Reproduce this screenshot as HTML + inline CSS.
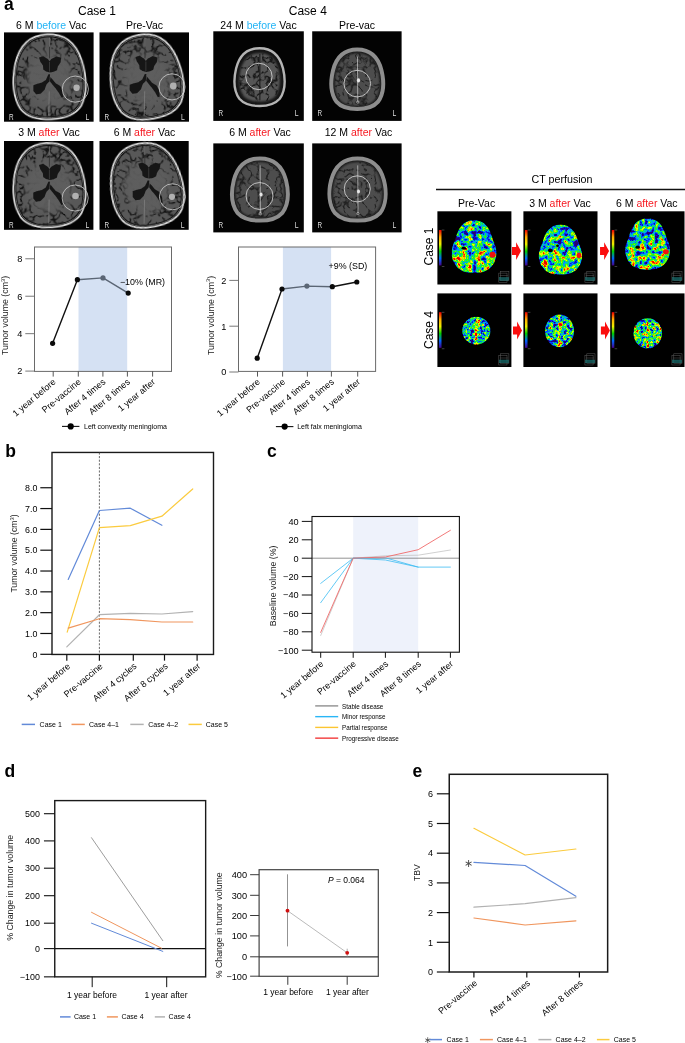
<!DOCTYPE html>
<html lang="en"><head><meta charset="utf-8"><title>Figure</title>
<style>html,body{margin:0;padding:0;background:#fff}body{width:685px;height:1043px;overflow:hidden}svg{display:block;will-change:transform}text{font-family:"Liberation Sans", Arial, Helvetica, sans-serif}</style></head><body>
<svg width="685" height="1043" viewBox="0 0 685 1043">
<defs>
<filter id="b1" x="-10%" y="-10%" width="120%" height="120%"><feGaussianBlur stdDeviation="0.6"/></filter>
<filter id="b2" x="-10%" y="-10%" width="120%" height="120%"><feGaussianBlur stdDeviation="1.2"/></filter>
<filter id="jet0" x="0" y="0" width="1" height="1" color-interpolation-filters="sRGB">
<feTurbulence type="fractalNoise" baseFrequency="0.2" numOctaves="3" seed="3" result="n"/>
<feColorMatrix in="n" type="matrix" values="1 0 0 0 0  1 0 0 0 0  1 0 0 0 0  0 0 0 0 1" result="n1"/>
<feComposite in="n1" in2="SourceGraphic" operator="arithmetic" k1="0" k2="1" k3="0.38" k4="-0.2" result="m"/>
<feColorMatrix in="m" type="matrix" values="1.75 0 0 0 -0.435  1.75 0 0 0 -0.435  1.75 0 0 0 -0.435  0 0 0 0 1"/>
<feComponentTransfer><feFuncR type="table" tableValues="0.15 0.05 0 0 0 0.1 0.5 0.95 1 1 0.9"/><feFuncG type="table" tableValues="0 0.05 0.25 0.6 0.85 0.95 1 1 0.6 0 0"/><feFuncB type="table" tableValues="0.45 0.75 1 1 0.6 0.1 0 0 0 0 0"/></feComponentTransfer>
<feComposite in2="SourceGraphic" operator="in"/>
</filter>
<filter id="jet1" x="0" y="0" width="1" height="1" color-interpolation-filters="sRGB">
<feTurbulence type="fractalNoise" baseFrequency="0.2" numOctaves="3" seed="10" result="n"/>
<feColorMatrix in="n" type="matrix" values="1 0 0 0 0  1 0 0 0 0  1 0 0 0 0  0 0 0 0 1" result="n1"/>
<feComposite in="n1" in2="SourceGraphic" operator="arithmetic" k1="0" k2="1" k3="0.38" k4="-0.2" result="m"/>
<feColorMatrix in="m" type="matrix" values="1.75 0 0 0 -0.435  1.75 0 0 0 -0.435  1.75 0 0 0 -0.435  0 0 0 0 1"/>
<feComponentTransfer><feFuncR type="table" tableValues="0.15 0.05 0 0 0 0.1 0.5 0.95 1 1 0.9"/><feFuncG type="table" tableValues="0 0.05 0.25 0.6 0.85 0.95 1 1 0.6 0 0"/><feFuncB type="table" tableValues="0.45 0.75 1 1 0.6 0.1 0 0 0 0 0"/></feComponentTransfer>
<feComposite in2="SourceGraphic" operator="in"/>
</filter>
<filter id="jet2" x="0" y="0" width="1" height="1" color-interpolation-filters="sRGB">
<feTurbulence type="fractalNoise" baseFrequency="0.2" numOctaves="3" seed="17" result="n"/>
<feColorMatrix in="n" type="matrix" values="1 0 0 0 0  1 0 0 0 0  1 0 0 0 0  0 0 0 0 1" result="n1"/>
<feComposite in="n1" in2="SourceGraphic" operator="arithmetic" k1="0" k2="1" k3="0.38" k4="-0.2" result="m"/>
<feColorMatrix in="m" type="matrix" values="1.75 0 0 0 -0.435  1.75 0 0 0 -0.435  1.75 0 0 0 -0.435  0 0 0 0 1"/>
<feComponentTransfer><feFuncR type="table" tableValues="0.15 0.05 0 0 0 0.1 0.5 0.95 1 1 0.9"/><feFuncG type="table" tableValues="0 0.05 0.25 0.6 0.85 0.95 1 1 0.6 0 0"/><feFuncB type="table" tableValues="0.45 0.75 1 1 0.6 0.1 0 0 0 0 0"/></feComponentTransfer>
<feComposite in2="SourceGraphic" operator="in"/>
</filter>
<filter id="jet3" x="0" y="0" width="1" height="1" color-interpolation-filters="sRGB">
<feTurbulence type="fractalNoise" baseFrequency="0.3" numOctaves="3" seed="24" result="n"/>
<feColorMatrix in="n" type="matrix" values="1 0 0 0 0  1 0 0 0 0  1 0 0 0 0  0 0 0 0 1" result="n1"/>
<feComposite in="n1" in2="SourceGraphic" operator="arithmetic" k1="0" k2="1" k3="0.38" k4="-0.2" result="m"/>
<feColorMatrix in="m" type="matrix" values="1.75 0 0 0 -0.435  1.75 0 0 0 -0.435  1.75 0 0 0 -0.435  0 0 0 0 1"/>
<feComponentTransfer><feFuncR type="table" tableValues="0.15 0.05 0 0 0 0.1 0.5 0.95 1 1 0.9"/><feFuncG type="table" tableValues="0 0.05 0.25 0.6 0.85 0.95 1 1 0.6 0 0"/><feFuncB type="table" tableValues="0.45 0.75 1 1 0.6 0.1 0 0 0 0 0"/></feComponentTransfer>
<feComposite in2="SourceGraphic" operator="in"/>
</filter>
<filter id="jet4" x="0" y="0" width="1" height="1" color-interpolation-filters="sRGB">
<feTurbulence type="fractalNoise" baseFrequency="0.3" numOctaves="3" seed="31" result="n"/>
<feColorMatrix in="n" type="matrix" values="1 0 0 0 0  1 0 0 0 0  1 0 0 0 0  0 0 0 0 1" result="n1"/>
<feComposite in="n1" in2="SourceGraphic" operator="arithmetic" k1="0" k2="1" k3="0.38" k4="-0.2" result="m"/>
<feColorMatrix in="m" type="matrix" values="1.75 0 0 0 -0.435  1.75 0 0 0 -0.435  1.75 0 0 0 -0.435  0 0 0 0 1"/>
<feComponentTransfer><feFuncR type="table" tableValues="0.15 0.05 0 0 0 0.1 0.5 0.95 1 1 0.9"/><feFuncG type="table" tableValues="0 0.05 0.25 0.6 0.85 0.95 1 1 0.6 0 0"/><feFuncB type="table" tableValues="0.45 0.75 1 1 0.6 0.1 0 0 0 0 0"/></feComponentTransfer>
<feComposite in2="SourceGraphic" operator="in"/>
</filter>
<filter id="jet5" x="0" y="0" width="1" height="1" color-interpolation-filters="sRGB">
<feTurbulence type="fractalNoise" baseFrequency="0.3" numOctaves="3" seed="38" result="n"/>
<feColorMatrix in="n" type="matrix" values="1 0 0 0 0  1 0 0 0 0  1 0 0 0 0  0 0 0 0 1" result="n1"/>
<feComposite in="n1" in2="SourceGraphic" operator="arithmetic" k1="0" k2="1" k3="0.38" k4="-0.2" result="m"/>
<feColorMatrix in="m" type="matrix" values="1.75 0 0 0 -0.435  1.75 0 0 0 -0.435  1.75 0 0 0 -0.435  0 0 0 0 1"/>
<feComponentTransfer><feFuncR type="table" tableValues="0.15 0.05 0 0 0 0.1 0.5 0.95 1 1 0.9"/><feFuncG type="table" tableValues="0 0.05 0.25 0.6 0.85 0.95 1 1 0.6 0 0"/><feFuncB type="table" tableValues="0.45 0.75 1 1 0.6 0.1 0 0 0 0 0"/></feComponentTransfer>
<feComposite in2="SourceGraphic" operator="in"/>
</filter>
<linearGradient id="cbar" x1="0" y1="0" x2="0" y2="1"><stop offset="0" stop-color="#e00"/><stop offset="0.2" stop-color="#fa0"/><stop offset="0.4" stop-color="#ee0"/><stop offset="0.6" stop-color="#0c0"/><stop offset="0.8" stop-color="#06f"/><stop offset="1" stop-color="#408"/></linearGradient>
<filter id="sul0" x="0" y="0" width="1" height="1"><feTurbulence type="turbulence" baseFrequency="0.12" numOctaves="2" seed="5"/><feColorMatrix type="matrix" values="0 0 0 0 0  0 0 0 0 0  0 0 0 0 0  -6 0 0 0 1.25"/><feGaussianBlur stdDeviation="0.35"/><feComposite in2="SourceGraphic" operator="in"/></filter>
<filter id="sul1" x="0" y="0" width="1" height="1"><feTurbulence type="turbulence" baseFrequency="0.12" numOctaves="2" seed="11"/><feColorMatrix type="matrix" values="0 0 0 0 0  0 0 0 0 0  0 0 0 0 0  -6 0 0 0 1.25"/><feGaussianBlur stdDeviation="0.35"/><feComposite in2="SourceGraphic" operator="in"/></filter>
<filter id="sul2" x="0" y="0" width="1" height="1"><feTurbulence type="turbulence" baseFrequency="0.12" numOctaves="2" seed="23"/><feColorMatrix type="matrix" values="0 0 0 0 0  0 0 0 0 0  0 0 0 0 0  -6 0 0 0 1.25"/><feGaussianBlur stdDeviation="0.35"/><feComposite in2="SourceGraphic" operator="in"/></filter>
<filter id="sul3" x="0" y="0" width="1" height="1"><feTurbulence type="turbulence" baseFrequency="0.12" numOctaves="2" seed="31"/><feColorMatrix type="matrix" values="0 0 0 0 0  0 0 0 0 0  0 0 0 0 0  -6 0 0 0 1.25"/><feGaussianBlur stdDeviation="0.35"/><feComposite in2="SourceGraphic" operator="in"/></filter>
<filter id="sul4" x="0" y="0" width="1" height="1"><feTurbulence type="turbulence" baseFrequency="0.11" numOctaves="2" seed="7"/><feColorMatrix type="matrix" values="0 0 0 0 0  0 0 0 0 0  0 0 0 0 0  -6 0 0 0 1.25"/><feGaussianBlur stdDeviation="0.35"/><feComposite in2="SourceGraphic" operator="in"/></filter>
<filter id="sul5" x="0" y="0" width="1" height="1"><feTurbulence type="turbulence" baseFrequency="0.11" numOctaves="2" seed="13"/><feColorMatrix type="matrix" values="0 0 0 0 0  0 0 0 0 0  0 0 0 0 0  -6 0 0 0 1.25"/><feGaussianBlur stdDeviation="0.35"/><feComposite in2="SourceGraphic" operator="in"/></filter>
<filter id="sul6" x="0" y="0" width="1" height="1"><feTurbulence type="turbulence" baseFrequency="0.11" numOctaves="2" seed="19"/><feColorMatrix type="matrix" values="0 0 0 0 0  0 0 0 0 0  0 0 0 0 0  -6 0 0 0 1.25"/><feGaussianBlur stdDeviation="0.35"/><feComposite in2="SourceGraphic" operator="in"/></filter>
<filter id="sul7" x="0" y="0" width="1" height="1"><feTurbulence type="turbulence" baseFrequency="0.11" numOctaves="2" seed="29"/><feColorMatrix type="matrix" values="0 0 0 0 0  0 0 0 0 0  0 0 0 0 0  -6 0 0 0 1.25"/><feGaussianBlur stdDeviation="0.35"/><feComposite in2="SourceGraphic" operator="in"/></filter>
<radialGradient id="core"><stop offset="0" stop-color="#5e5e5e" stop-opacity="1"/><stop offset="0.7" stop-color="#5e5e5e" stop-opacity="0.9"/><stop offset="1" stop-color="#5e5e5e" stop-opacity="0"/></radialGradient>
<radialGradient id="core4"><stop offset="0" stop-color="#555" stop-opacity="1"/><stop offset="0.6" stop-color="#555" stop-opacity="0.8"/><stop offset="1" stop-color="#555" stop-opacity="0"/></radialGradient>
<linearGradient id="gv" x1="0" y1="0" x2="0" y2="1"><stop offset="0" stop-color="#7c7c7c"/><stop offset="0.35" stop-color="#5e5e5e"/><stop offset="0.7" stop-color="#a4a4a4"/><stop offset="1" stop-color="#999"/></linearGradient>
<linearGradient id="gh" x1="0" y1="0" x2="1" y2="0"><stop offset="0" stop-color="#8a8a8a"/><stop offset="0.2" stop-color="#6c6c6c"/><stop offset="0.42" stop-color="#6c6c6c"/><stop offset="0.5" stop-color="#fff"/><stop offset="0.58" stop-color="#6c6c6c"/><stop offset="0.8" stop-color="#6c6c6c"/><stop offset="1" stop-color="#8a8a8a"/></linearGradient>
<linearGradient id="gh2" x1="0" y1="0" x2="1" y2="0"><stop offset="0" stop-color="#d0d0d0"/><stop offset="0.2" stop-color="#8a8a8a"/><stop offset="0.42" stop-color="#7a7a7a"/><stop offset="0.5" stop-color="#fff"/><stop offset="0.58" stop-color="#7a7a7a"/><stop offset="0.8" stop-color="#8a8a8a"/><stop offset="1" stop-color="#d0d0d0"/></linearGradient>
</defs>
<rect width="685" height="1043" fill="#fff"/>
<text font-size="17.5" text-anchor="start" fill="#000" font-weight="bold" x="3.90" y="9.60" >a</text>
<text font-size="17.5" text-anchor="start" fill="#000" font-weight="bold" x="5.20" y="457.00" >b</text>
<text font-size="17.5" text-anchor="start" fill="#000" font-weight="bold" x="267.00" y="457.00" >c</text>
<text font-size="17.5" text-anchor="start" fill="#000" font-weight="bold" x="4.40" y="776.60" >d</text>
<text font-size="17.5" text-anchor="start" fill="#000" font-weight="bold" x="412.60" y="776.60" >e</text>
<text font-size="12" text-anchor="middle" fill="#000" x="97.00" y="14.90" >Case 1</text>
<text font-size="12" text-anchor="middle" fill="#000" x="307.80" y="14.90" >Case 4</text>
<text font-size="10.5" text-anchor="middle" fill="#000" x="51.20" y="28.60" xml:space="preserve">6 M <tspan fill="#22b4f6">before</tspan> Vac</text>
<text font-size="10.5" text-anchor="middle" fill="#000" x="144.50" y="28.60" xml:space="preserve">Pre-Vac</text>
<text font-size="10.5" text-anchor="middle" fill="#000" x="49.00" y="136.00" xml:space="preserve">3 M <tspan fill="#f61820">after</tspan> Vac</text>
<text font-size="10.5" text-anchor="middle" fill="#000" x="144.50" y="136.00" xml:space="preserve">6 M <tspan fill="#f61820">after</tspan> Vac</text>
<g transform="translate(4.00,32.40)">
<rect x="0.00" y="0.00" width="89.60" height="89.30" fill="#030303" stroke="none" stroke-width="1" />
<g transform="rotate(-3 45.25 44.38)">
<path d="M45.25,1.85 C61.51,1.85 73.43,11.21 78.49,29.50 C82.83,46.51 82.11,63.52 75.60,75.01 C68.74,84.79 56.81,86.91 45.25,86.91 C33.68,86.91 21.76,84.79 14.89,75.01 C8.39,63.52 7.67,46.51 12.00,29.50 C17.06,11.21 28.99,1.85 45.25,1.85 Z" fill="none" stroke="#dcdcdc" stroke-width="1.8" filter="url(#b1)"/>
<path d="M45.25,3.55 C60.74,3.55 72.11,12.53 76.93,30.09 C81.06,46.42 80.37,62.76 74.17,73.78 C67.63,83.17 56.27,85.21 45.25,85.21 C34.23,85.21 22.86,83.17 16.32,73.78 C10.12,62.76 9.43,46.42 13.57,30.09 C18.39,12.53 29.75,3.55 45.25,3.55 Z" fill="none" stroke="#7c7c7c" stroke-width="0.7"/>
<path d="M45.25,4.65 C60.25,4.65 71.25,13.39 75.92,30.48 C79.92,46.37 79.25,62.26 73.25,72.99 C66.92,82.13 55.92,84.11 45.25,84.11 C34.58,84.11 23.58,82.13 17.25,72.99 C11.25,62.26 10.58,46.37 14.58,30.48 C19.25,13.39 30.25,4.65 45.25,4.65 Z" fill="#585858" filter="url(#b1)"/>
<path d="M45.25,4.65 C60.25,4.65 71.25,13.39 75.92,30.48 C79.92,46.37 79.25,62.26 73.25,72.99 C66.92,82.13 55.92,84.11 45.25,84.11 C34.58,84.11 23.58,82.13 17.25,72.99 C11.25,62.26 10.58,46.37 14.58,30.48 C19.25,13.39 30.25,4.65 45.25,4.65 Z" fill="#000" filter="url(#sul0)" opacity="0.8"/>
<ellipse cx="45.25" cy="46.38" rx="26.74" ry="31.13" fill="url(#core)"/>
</g>
<line x1="45.52" y1="6.25" x2="45.52" y2="25.90" stroke="#303030" stroke-width="0.8" />
<line x1="45.52" y1="5.36" x2="45.52" y2="14.29" stroke="#9a9a9a" stroke-width="0.5" />
<line x1="45.25" y1="58.94" x2="44.80" y2="83.05" stroke="#8a8a8a" stroke-width="0.6" />
<g fill="#171717" filter="url(#b1)">
<path d="M35.03,25.00 L39.24,23.84 L43.81,26.70 L45.52,28.93 L47.31,26.70 L52.33,24.11 L57.16,25.45 L56.54,30.00 L53.85,34.11 L52.95,37.77 L49.73,39.38 L46.05,40.01 L42.11,39.11 L39.24,37.15 L38.98,33.22 L36.38,29.29 Z"/><path d="M29.39,52.78 L32.70,51.53 L37.90,50.19 L41.84,47.60 L44.44,41.97 L46.05,41.97 L45.52,48.85 L42.47,52.15 L40.59,57.33 L36.65,61.26 L32.08,61.88 L29.39,58.67 Z"/><path d="M46.41,44.65 L49.01,47.60 L51.70,50.81 L56.27,53.49 L58.87,58.67 L59.49,64.56 L57.52,65.19 L54.92,60.63 L51.70,56.08 L48.38,52.15 L45.88,48.85 Z"/>
</g>
<line x1="45.52" y1="29.47" x2="45.52" y2="39.29" stroke="#5a5a5a" stroke-width="0.5" />
<circle cx="72.58" cy="55.37" r="3.23" fill="#b0b0b0" filter="url(#b1)"/>
<circle cx="71.32" cy="56.71" r="13.08" fill="none" stroke="#cfcfcf" stroke-width="0.8"/>
<text font-size="9" text-anchor="start" fill="#dedede" x="5.00" y="87.40" textLength="4.6" lengthAdjust="spacingAndGlyphs">R</text>
<text font-size="9" text-anchor="end" fill="#dedede" x="85.40" y="87.40" textLength="3.8" lengthAdjust="spacingAndGlyphs">L</text>
</g>
<g transform="translate(99.50,32.40)">
<rect x="0.00" y="0.00" width="89.50" height="89.30" fill="#030303" stroke="none" stroke-width="1" />
<g transform="rotate(-10 46.54 44.38)">
<path d="M46.54,1.85 C62.78,1.85 74.69,11.21 79.75,29.50 C84.08,46.51 83.36,63.52 76.86,75.01 C70.00,84.79 58.09,86.91 46.54,86.91 C34.99,86.91 23.08,84.79 16.22,75.01 C9.72,63.52 9.00,46.51 13.33,29.50 C18.39,11.21 30.30,1.85 46.54,1.85 Z" fill="none" stroke="#dcdcdc" stroke-width="1.8" filter="url(#b1)"/>
<path d="M46.54,3.55 C62.02,3.55 73.37,12.53 78.18,30.09 C82.31,46.42 81.62,62.76 75.43,73.78 C68.90,83.17 57.55,85.21 46.54,85.21 C35.53,85.21 24.18,83.17 17.65,73.78 C11.46,62.76 10.77,46.42 14.90,30.09 C19.71,12.53 31.06,3.55 46.54,3.55 Z" fill="none" stroke="#7c7c7c" stroke-width="0.7"/>
<path d="M46.54,4.65 C61.52,4.65 72.51,13.39 77.17,30.48 C81.17,46.37 80.50,62.26 74.51,72.99 C68.18,82.13 57.19,84.11 46.54,84.11 C35.89,84.11 24.90,82.13 18.57,72.99 C12.58,62.26 11.91,46.37 15.91,30.48 C20.57,13.39 31.56,4.65 46.54,4.65 Z" fill="#585858" filter="url(#b1)"/>
<path d="M46.54,4.65 C61.52,4.65 72.51,13.39 77.17,30.48 C81.17,46.37 80.50,62.26 74.51,72.99 C68.18,82.13 57.19,84.11 46.54,84.11 C35.89,84.11 24.90,82.13 18.57,72.99 C12.58,62.26 11.91,46.37 15.91,30.48 C20.57,13.39 31.56,4.65 46.54,4.65 Z" fill="#000" filter="url(#sul1)" opacity="0.8"/>
<ellipse cx="46.54" cy="46.38" rx="26.70" ry="31.13" fill="url(#core)"/>
</g>
<line x1="45.47" y1="6.25" x2="45.47" y2="25.90" stroke="#303030" stroke-width="0.8" />
<line x1="45.47" y1="5.36" x2="45.47" y2="14.29" stroke="#9a9a9a" stroke-width="0.5" />
<line x1="45.20" y1="58.94" x2="44.75" y2="83.05" stroke="#8a8a8a" stroke-width="0.6" />
<g fill="#171717" filter="url(#b1)">
<path d="M35.89,24.56 L40.10,23.40 L44.66,26.25 L46.36,28.49 L48.15,26.25 L53.16,23.66 L58.00,25.00 L57.37,29.56 L54.68,33.67 L53.79,37.33 L50.57,38.93 L46.90,39.56 L42.96,38.67 L40.10,36.70 L39.83,32.77 L37.23,28.84 Z"/><path d="M30.25,52.33 L33.56,51.08 L38.75,49.74 L42.69,47.15 L45.29,41.52 L46.90,41.52 L46.36,48.40 L43.32,51.70 L41.44,56.88 L37.50,60.81 L32.94,61.44 L30.25,58.22 Z"/><path d="M47.26,44.20 L49.85,47.15 L52.54,50.37 L57.10,53.04 L59.70,58.22 L60.32,64.12 L58.35,64.74 L55.76,60.19 L52.54,55.63 L49.23,51.70 L46.72,48.40 Z"/>
</g>
<line x1="46.36" y1="29.02" x2="46.36" y2="38.85" stroke="#5a5a5a" stroke-width="0.5" />
<circle cx="73.84" cy="53.58" r="3.40" fill="#b0b0b0" filter="url(#b1)"/>
<circle cx="72.50" cy="54.47" r="13.07" fill="none" stroke="#cfcfcf" stroke-width="0.8"/>
<text font-size="9" text-anchor="start" fill="#dedede" x="5.00" y="87.40" textLength="4.6" lengthAdjust="spacingAndGlyphs">R</text>
<text font-size="9" text-anchor="end" fill="#dedede" x="85.30" y="87.40" textLength="3.8" lengthAdjust="spacingAndGlyphs">L</text>
</g>
<g transform="translate(4.00,141.00)">
<rect x="0.00" y="0.00" width="89.40" height="88.80" fill="#030303" stroke="none" stroke-width="1" />
<g transform="rotate(-4 45.06 44.13)">
<path d="M45.06,1.84 C61.28,1.84 73.18,11.15 78.23,29.33 C82.55,46.25 81.83,63.16 75.34,74.58 C68.49,84.31 56.59,86.42 45.06,86.42 C33.52,86.42 21.62,84.31 14.77,74.58 C8.28,63.16 7.56,46.25 11.89,29.33 C16.94,11.15 28.83,1.84 45.06,1.84 Z" fill="none" stroke="#dcdcdc" stroke-width="1.8" filter="url(#b1)"/>
<path d="M45.06,3.54 C60.52,3.54 71.85,12.47 76.66,29.93 C80.79,46.16 80.10,62.40 73.91,73.36 C67.39,82.69 56.05,84.72 45.06,84.72 C34.06,84.72 22.73,82.69 16.20,73.36 C10.02,62.40 9.33,46.16 13.45,29.93 C18.26,12.47 29.60,3.54 45.06,3.54 Z" fill="none" stroke="#7c7c7c" stroke-width="0.7"/>
<path d="M45.06,4.64 C60.02,4.64 71.00,13.33 75.65,30.31 C79.64,46.11 78.98,61.90 72.99,72.57 C66.67,81.65 55.70,83.62 45.06,83.62 C34.42,83.62 23.44,81.65 17.12,72.57 C11.14,61.90 10.47,46.11 14.46,30.31 C19.12,13.33 30.09,4.64 45.06,4.64 Z" fill="#585858" filter="url(#b1)"/>
<path d="M45.06,4.64 C60.02,4.64 71.00,13.33 75.65,30.31 C79.64,46.11 78.98,61.90 72.99,72.57 C66.67,81.65 55.70,83.62 45.06,83.62 C34.42,83.62 23.44,81.65 17.12,72.57 C11.14,61.90 10.47,46.11 14.46,30.31 C19.12,13.33 30.09,4.64 45.06,4.64 Z" fill="#000" filter="url(#sul2)" opacity="0.8"/>
<ellipse cx="45.06" cy="46.13" rx="26.65" ry="30.89" fill="url(#core)"/>
</g>
<line x1="45.42" y1="6.22" x2="45.42" y2="25.75" stroke="#303030" stroke-width="0.8" />
<line x1="45.42" y1="5.33" x2="45.42" y2="14.21" stroke="#9a9a9a" stroke-width="0.5" />
<line x1="45.15" y1="58.61" x2="44.70" y2="82.58" stroke="#8a8a8a" stroke-width="0.6" />
<g fill="#171717" filter="url(#b1)">
<path d="M34.96,23.98 L39.16,22.82 L43.72,25.66 L45.42,27.88 L47.20,25.66 L52.21,23.09 L57.04,24.42 L56.41,28.95 L53.73,33.03 L52.84,36.67 L49.62,38.27 L45.95,38.89 L42.02,38.01 L39.16,36.05 L38.89,32.15 L36.30,28.24 Z"/><path d="M29.32,51.59 L32.63,50.35 L37.82,49.02 L41.75,46.44 L44.34,40.85 L45.95,40.85 L45.42,47.69 L42.38,50.97 L40.50,56.12 L36.56,60.03 L32.01,60.65 L29.32,57.45 Z"/><path d="M46.31,43.51 L48.90,46.44 L51.58,49.64 L56.14,52.30 L58.74,57.45 L59.36,63.31 L57.39,63.94 L54.80,59.41 L51.58,54.88 L48.28,50.97 L45.77,47.69 Z"/>
</g>
<line x1="45.42" y1="28.42" x2="45.42" y2="38.18" stroke="#5a5a5a" stroke-width="0.5" />
<circle cx="71.52" cy="55.06" r="3.31" fill="#b0b0b0" filter="url(#b1)"/>
<circle cx="71.16" cy="57.01" r="13.05" fill="none" stroke="#cfcfcf" stroke-width="0.8"/>
<text font-size="9" text-anchor="start" fill="#dedede" x="5.00" y="86.90" textLength="4.6" lengthAdjust="spacingAndGlyphs">R</text>
<text font-size="9" text-anchor="end" fill="#dedede" x="85.20" y="86.90" textLength="3.8" lengthAdjust="spacingAndGlyphs">L</text>
</g>
<g transform="translate(99.50,141.00)">
<rect x="0.00" y="0.00" width="89.20" height="88.80" fill="#030303" stroke="none" stroke-width="1" />
<g transform="rotate(-11 46.92 44.13)">
<path d="M46.92,1.84 C63.11,1.84 74.98,11.15 80.01,29.33 C84.33,46.25 83.61,63.16 77.14,74.58 C70.30,84.31 58.43,86.42 46.92,86.42 C35.41,86.42 23.54,84.31 16.70,74.58 C10.23,63.16 9.51,46.25 13.82,29.33 C18.86,11.15 30.73,1.84 46.92,1.84 Z" fill="none" stroke="#dcdcdc" stroke-width="1.8" filter="url(#b1)"/>
<path d="M46.92,3.54 C62.34,3.54 73.65,12.47 78.45,29.93 C82.56,46.16 81.88,62.40 75.71,73.36 C69.20,82.69 57.89,84.72 46.92,84.72 C35.95,84.72 24.64,82.69 18.13,73.36 C11.96,62.40 11.28,46.16 15.39,29.93 C20.19,12.47 31.50,3.54 46.92,3.54 Z" fill="none" stroke="#7c7c7c" stroke-width="0.7"/>
<path d="M46.92,4.64 C61.85,4.64 72.79,13.33 77.44,30.31 C81.42,46.11 80.75,61.90 74.78,72.57 C68.48,81.65 57.53,83.62 46.92,83.62 C36.30,83.62 25.36,81.65 19.05,72.57 C13.08,61.90 12.42,46.11 16.40,30.31 C21.05,13.33 31.99,4.64 46.92,4.64 Z" fill="#585858" filter="url(#b1)"/>
<path d="M46.92,4.64 C61.85,4.64 72.79,13.33 77.44,30.31 C81.42,46.11 80.75,61.90 74.78,72.57 C68.48,81.65 57.53,83.62 46.92,83.62 C36.30,83.62 25.36,81.65 19.05,72.57 C13.08,61.90 12.42,46.11 16.40,30.31 C21.05,13.33 31.99,4.64 46.92,4.64 Z" fill="#000" filter="url(#sul3)" opacity="0.8"/>
<ellipse cx="46.92" cy="46.13" rx="26.57" ry="30.89" fill="url(#core)"/>
</g>
<line x1="45.31" y1="6.22" x2="45.31" y2="25.75" stroke="#303030" stroke-width="0.8" />
<line x1="45.31" y1="5.33" x2="45.31" y2="14.21" stroke="#9a9a9a" stroke-width="0.5" />
<line x1="45.05" y1="58.61" x2="44.60" y2="82.58" stroke="#8a8a8a" stroke-width="0.6" />
<g fill="#171717" filter="url(#b1)">
<path d="M38.80,22.64 L42.99,21.49 L47.54,24.33 L49.24,26.55 L51.02,24.33 L56.02,21.76 L60.83,23.09 L60.21,27.62 L57.53,31.70 L56.64,35.34 L53.43,36.94 L49.77,37.56 L45.85,36.67 L42.99,34.72 L42.73,30.81 L40.14,26.91 Z"/><path d="M33.18,50.26 L36.48,49.02 L41.66,47.69 L45.58,45.11 L48.17,39.52 L49.77,39.52 L49.24,46.35 L46.21,49.64 L44.33,54.79 L40.41,58.70 L35.86,59.32 L33.18,56.12 Z"/><path d="M50.13,42.18 L52.72,45.11 L55.39,48.31 L59.94,50.97 L62.53,56.12 L63.15,61.98 L61.19,62.60 L58.60,58.08 L55.39,53.55 L52.09,49.64 L49.60,46.35 Z"/>
</g>
<line x1="49.24" y1="27.08" x2="49.24" y2="36.85" stroke="#5a5a5a" stroke-width="0.5" />
<circle cx="72.43" cy="55.77" r="3.12" fill="#b0b0b0" filter="url(#b1)"/>
<circle cx="72.97" cy="55.77" r="13.02" fill="none" stroke="#cfcfcf" stroke-width="0.8"/>
<text font-size="9" text-anchor="start" fill="#dedede" x="5.00" y="86.90" textLength="4.6" lengthAdjust="spacingAndGlyphs">R</text>
<text font-size="9" text-anchor="end" fill="#dedede" x="85.00" y="86.90" textLength="3.8" lengthAdjust="spacingAndGlyphs">L</text>
</g>
<text font-size="10.5" text-anchor="middle" fill="#000" x="258.50" y="28.60" xml:space="preserve">24 M <tspan fill="#22b4f6">before</tspan> Vac</text>
<text font-size="10.5" text-anchor="middle" fill="#000" x="357.00" y="28.60" xml:space="preserve">Pre-vac</text>
<text font-size="10.5" text-anchor="middle" fill="#000" x="260.00" y="136.00" xml:space="preserve">6 M <tspan fill="#f61820">after</tspan> Vac</text>
<text font-size="10.5" text-anchor="middle" fill="#000" x="358.50" y="136.00" xml:space="preserve">12 M <tspan fill="#f61820">after</tspan> Vac</text>
<g transform="translate(213.30,31.30)">
<rect x="0.00" y="0.00" width="90.50" height="89.60" fill="#030303" stroke="none" stroke-width="1" />
<path d="M46.25,16.88 C58.86,16.88 66.43,24.11 69.71,37.11 C72.48,48.68 71.47,60.24 66.43,67.46 C61.38,73.25 53.81,74.69 46.25,74.69 C38.68,74.69 31.11,73.25 26.06,67.46 C21.02,60.24 20.01,48.68 22.79,37.11 C26.06,24.11 33.63,16.88 46.25,16.88 Z" fill="#161616" stroke="#b4b4b4" stroke-width="2.4" filter="url(#b1)"/>
<path d="M46.25,21.98 C56.46,21.98 62.59,28.01 65.24,38.85 C67.49,48.50 66.67,58.14 62.59,64.16 C58.50,68.99 52.37,70.19 46.25,70.19 C40.12,70.19 33.99,68.99 29.90,64.16 C25.82,58.14 25.00,48.50 27.25,38.85 C29.90,28.01 36.03,21.98 46.25,21.98 Z" fill="#565656" filter="url(#b2)"/>
<path d="M46.25,21.98 C56.46,21.98 62.59,28.01 65.24,38.85 C67.49,48.50 66.67,58.14 62.59,64.16 C58.50,68.99 52.37,70.19 46.25,70.19 C40.12,70.19 33.99,68.99 29.90,64.16 C25.82,58.14 25.00,48.50 27.25,38.85 C29.90,28.01 36.03,21.98 46.25,21.98 Z" fill="#000" filter="url(#sul4)" opacity="0.7"/>
<line x1="46.55" y1="22.68" x2="46.55" y2="68.89" stroke="#1c1c1c" stroke-width="1.1" />
<circle cx="45.61" cy="45.16" r="13.21" fill="none" stroke="#dcdcdc" stroke-width="0.8"/>
<text font-size="9" text-anchor="start" fill="#dedede" x="5.20" y="85.20" textLength="4.6" lengthAdjust="spacingAndGlyphs">R</text>
<text font-size="9" text-anchor="end" fill="#dedede" x="85.30" y="85.20" textLength="3.8" lengthAdjust="spacingAndGlyphs">L</text>
</g>
<g transform="translate(312.20,31.30)">
<rect x="0.00" y="0.00" width="89.40" height="89.60" fill="#030303" stroke="none" stroke-width="1" />
<path d="M45.06,18.31 C58.09,18.31 65.91,25.74 69.30,39.11 C72.17,51.00 71.13,62.88 65.91,70.31 C60.70,76.26 52.88,77.74 45.06,77.74 C37.24,77.74 29.41,76.26 24.20,70.31 C18.99,62.88 17.94,51.00 20.81,39.11 C24.20,25.74 32.02,18.31 45.06,18.31 Z" fill="#161616" stroke="#8e8e8e" stroke-width="4.0" filter="url(#b1)"/>
<path d="M45.06,22.01 C56.39,22.01 63.19,28.59 66.14,40.43 C68.64,50.96 67.73,61.48 63.19,68.06 C58.66,73.33 51.86,74.64 45.06,74.64 C38.26,74.64 31.45,73.33 26.92,68.06 C22.39,61.48 21.48,50.96 23.97,40.43 C26.92,28.59 33.72,22.01 45.06,22.01 Z" fill="#4e4e4e" filter="url(#b2)"/>
<path d="M45.06,22.01 C56.39,22.01 63.19,28.59 66.14,40.43 C68.64,50.96 67.73,61.48 63.19,68.06 C58.66,73.33 51.86,74.64 45.06,74.64 C38.26,74.64 31.45,73.33 26.92,68.06 C22.39,61.48 21.48,50.96 23.97,40.43 C26.92,28.59 33.72,22.01 45.06,22.01 Z" fill="#000" filter="url(#sul5)" opacity="0.55"/>
<line x1="45.26" y1="25.31" x2="45.56" y2="70.74" stroke="#cfcfcf" stroke-width="0.7" />
<circle cx="45.56" cy="70.74" r="1.2" fill="none" stroke="#cfcfcf" stroke-width="0.6"/>
<ellipse cx="46.31" cy="49.01" rx="1.61" ry="2.17" fill="#e6e6e6" filter="url(#b1)"/>
<circle cx="45.06" cy="52.33" r="13.32" fill="none" stroke="#dcdcdc" stroke-width="0.8"/>
<text font-size="9" text-anchor="start" fill="#dedede" x="5.20" y="85.20" textLength="4.6" lengthAdjust="spacingAndGlyphs">R</text>
<text font-size="9" text-anchor="end" fill="#dedede" x="84.20" y="85.20" textLength="3.8" lengthAdjust="spacingAndGlyphs">L</text>
</g>
<g transform="translate(213.30,143.40)">
<rect x="0.00" y="0.00" width="90.50" height="89.00" fill="#030303" stroke="none" stroke-width="1" />
<path d="M46.61,14.99 C60.63,14.99 69.04,22.77 72.69,36.77 C75.78,49.21 74.65,61.66 69.04,69.43 C63.44,75.65 55.02,77.21 46.61,77.21 C38.19,77.21 29.78,75.65 24.17,69.43 C18.56,61.66 17.44,49.21 20.52,36.77 C24.17,22.77 32.58,14.99 46.61,14.99 Z" fill="#161616" stroke="#8e8e8e" stroke-width="4.0" filter="url(#b1)"/>
<path d="M46.61,18.69 C58.93,18.69 66.32,25.62 69.53,38.09 C72.24,49.17 71.25,60.26 66.32,67.18 C61.40,72.72 54.00,74.11 46.61,74.11 C39.21,74.11 31.82,72.72 26.89,67.18 C21.96,60.26 20.98,49.17 23.69,38.09 C26.89,25.62 34.28,18.69 46.61,18.69 Z" fill="#4e4e4e" filter="url(#b2)"/>
<path d="M46.61,18.69 C58.93,18.69 66.32,25.62 69.53,38.09 C72.24,49.17 71.25,60.26 66.32,67.18 C61.40,72.72 54.00,74.11 46.61,74.11 C39.21,74.11 31.82,72.72 26.89,67.18 C21.96,60.26 20.98,49.17 23.69,38.09 C26.89,25.62 34.28,18.69 46.61,18.69 Z" fill="#000" filter="url(#sul6)" opacity="0.55"/>
<line x1="46.81" y1="21.99" x2="47.11" y2="70.21" stroke="#cfcfcf" stroke-width="0.7" />
<circle cx="47.11" cy="70.21" r="1.2" fill="none" stroke="#cfcfcf" stroke-width="0.6"/>
<ellipse cx="47.78" cy="51.09" rx="1.54" ry="2.08" fill="#e6e6e6" filter="url(#b1)"/>
<circle cx="46.25" cy="52.60" r="13.48" fill="none" stroke="#dcdcdc" stroke-width="0.8"/>
<text font-size="9" text-anchor="start" fill="#dedede" x="5.20" y="84.60" textLength="4.6" lengthAdjust="spacingAndGlyphs">R</text>
<text font-size="9" text-anchor="end" fill="#dedede" x="85.30" y="84.60" textLength="3.8" lengthAdjust="spacingAndGlyphs">L</text>
</g>
<g transform="translate(312.20,143.40)">
<rect x="0.00" y="0.00" width="89.40" height="89.00" fill="#030303" stroke="none" stroke-width="1" />
<path d="M45.33,14.99 C59.52,14.99 68.04,22.77 71.73,36.77 C74.86,49.21 73.72,61.66 68.04,69.43 C62.36,75.65 53.84,77.21 45.33,77.21 C36.81,77.21 28.29,75.65 22.61,69.43 C16.93,61.66 15.79,49.21 18.92,36.77 C22.61,22.77 31.13,14.99 45.33,14.99 Z" fill="#161616" stroke="#8e8e8e" stroke-width="4.0" filter="url(#b1)"/>
<path d="M45.33,18.69 C57.82,18.69 65.32,25.62 68.57,38.09 C71.32,49.17 70.32,60.26 65.32,67.18 C60.32,72.72 52.82,74.11 45.33,74.11 C37.83,74.11 30.33,72.72 25.33,67.18 C20.33,60.26 19.33,49.17 22.08,38.09 C25.33,25.62 32.83,18.69 45.33,18.69 Z" fill="#4e4e4e" filter="url(#b2)"/>
<path d="M45.33,18.69 C57.82,18.69 65.32,25.62 68.57,38.09 C71.32,49.17 70.32,60.26 65.32,67.18 C60.32,72.72 52.82,74.11 45.33,74.11 C37.83,74.11 30.33,72.72 25.33,67.18 C20.33,60.26 19.33,49.17 22.08,38.09 C25.33,25.62 32.83,18.69 45.33,18.69 Z" fill="#000" filter="url(#sul7)" opacity="0.55"/>
<line x1="45.53" y1="21.99" x2="45.83" y2="70.21" stroke="#cfcfcf" stroke-width="0.7" />
<circle cx="45.83" cy="70.21" r="1.2" fill="none" stroke="#cfcfcf" stroke-width="0.6"/>
<ellipse cx="46.31" cy="48.06" rx="1.52" ry="2.05" fill="#e6e6e6" filter="url(#b1)"/>
<circle cx="45.06" cy="45.48" r="13.05" fill="none" stroke="#dcdcdc" stroke-width="0.8"/>
<text font-size="9" text-anchor="start" fill="#dedede" x="5.20" y="84.60" textLength="4.6" lengthAdjust="spacingAndGlyphs">R</text>
<text font-size="9" text-anchor="end" fill="#dedede" x="84.20" y="84.60" textLength="3.8" lengthAdjust="spacingAndGlyphs">L</text>
</g>
<rect x="78.50" y="247.00" width="48.70" height="124.40" fill="#d5e1f3" stroke="none" stroke-width="1" />
<rect x="34.50" y="247.00" width="137.00" height="124.40" fill="none" stroke="#6a6a6a" stroke-width="1.0" />
<line x1="25.30" y1="371.10" x2="34.50" y2="371.10" stroke="#6a6a6a" stroke-width="0.9" />
<text font-size="9.2" text-anchor="end" fill="#000" x="22.40" y="374.40" >2</text>
<line x1="25.30" y1="333.66" x2="34.50" y2="333.66" stroke="#6a6a6a" stroke-width="0.9" />
<text font-size="9.2" text-anchor="end" fill="#000" x="22.40" y="336.96" >4</text>
<line x1="25.30" y1="296.22" x2="34.50" y2="296.22" stroke="#6a6a6a" stroke-width="0.9" />
<text font-size="9.2" text-anchor="end" fill="#000" x="22.40" y="299.52" >6</text>
<line x1="25.30" y1="258.78" x2="34.50" y2="258.78" stroke="#6a6a6a" stroke-width="0.9" />
<text font-size="9.2" text-anchor="end" fill="#000" x="22.40" y="262.08" >8</text>
<line x1="53.20" y1="371.40" x2="53.20" y2="376.60" stroke="#444" stroke-width="0.9" />
<line x1="78.30" y1="371.40" x2="78.30" y2="376.60" stroke="#444" stroke-width="0.9" />
<line x1="102.90" y1="371.40" x2="102.90" y2="376.60" stroke="#444" stroke-width="0.9" />
<line x1="127.40" y1="371.40" x2="127.40" y2="376.60" stroke="#444" stroke-width="0.9" />
<line x1="152.60" y1="371.40" x2="152.60" y2="376.60" stroke="#444" stroke-width="0.9" />
<text font-size="9.0" text-anchor="end" fill="#000" transform="translate(56.40,382.80) rotate(-40)" >1 year before</text>
<text font-size="9.0" text-anchor="end" fill="#000" transform="translate(81.50,382.80) rotate(-40)" >Pre-vaccine</text>
<text font-size="9.0" text-anchor="end" fill="#000" transform="translate(106.10,382.80) rotate(-40)" >After 4 times</text>
<text font-size="9.0" text-anchor="end" fill="#000" transform="translate(130.60,382.80) rotate(-40)" >After 8 times</text>
<text font-size="9.0" text-anchor="end" fill="#000" transform="translate(155.80,382.80) rotate(-40)" >1 year after</text>
<text font-size="8.8" text-anchor="middle" fill="#222" transform="translate(8.30,315.40) rotate(-90)" >Tumor volume (cm<tspan font-size="5.8" dy="-3.2">3</tspan><tspan dy="3.2">)</tspan></text>
<polyline points="52.60,343.30 77.40,279.70" fill="none" stroke="#111" stroke-width="1.4" stroke-linejoin="round" stroke-linecap="round" />
<polyline points="77.40,279.70 103.00,277.90 128.20,293.10" fill="none" stroke="#5b6675" stroke-width="1.4" stroke-linejoin="round" stroke-linecap="round" />
<circle cx="52.6" cy="343.3" r="2.6" fill="#0a0a0a"/>
<circle cx="77.4" cy="279.7" r="2.6" fill="#0a0a0a"/>
<circle cx="103" cy="277.9" r="2.6" fill="#5b6675"/>
<circle cx="128.2" cy="293.1" r="2.6" fill="#0a0a0a"/>
<text font-size="8.9" text-anchor="start" fill="#000" x="119.90" y="284.90" >−10% (MR)</text>
<line x1="62.00" y1="426.40" x2="79.40" y2="426.40" stroke="#111" stroke-width="1.1" />
<circle cx="70.70" cy="426.40" r="3.1" fill="#000"/>
<text font-size="7" text-anchor="start" fill="#000" x="84.00" y="428.70" >Left convexity meningioma</text>
<rect x="282.90" y="247.00" width="48.20" height="124.40" fill="#d5e1f3" stroke="none" stroke-width="1" />
<rect x="238.50" y="247.00" width="137.10" height="124.40" fill="none" stroke="#6a6a6a" stroke-width="1.0" />
<line x1="229.30" y1="372.00" x2="238.50" y2="372.00" stroke="#6a6a6a" stroke-width="0.9" />
<text font-size="9.2" text-anchor="end" fill="#000" x="226.40" y="375.30" >0</text>
<line x1="229.30" y1="326.20" x2="238.50" y2="326.20" stroke="#6a6a6a" stroke-width="0.9" />
<text font-size="9.2" text-anchor="end" fill="#000" x="226.40" y="329.50" >1</text>
<line x1="229.30" y1="280.40" x2="238.50" y2="280.40" stroke="#6a6a6a" stroke-width="0.9" />
<text font-size="9.2" text-anchor="end" fill="#000" x="226.40" y="283.70" >2</text>
<line x1="257.50" y1="371.40" x2="257.50" y2="376.60" stroke="#444" stroke-width="0.9" />
<line x1="282.60" y1="371.40" x2="282.60" y2="376.60" stroke="#444" stroke-width="0.9" />
<line x1="307.40" y1="371.40" x2="307.40" y2="376.60" stroke="#444" stroke-width="0.9" />
<line x1="331.40" y1="371.40" x2="331.40" y2="376.60" stroke="#444" stroke-width="0.9" />
<line x1="357.70" y1="371.40" x2="357.70" y2="376.60" stroke="#444" stroke-width="0.9" />
<text font-size="9.0" text-anchor="end" fill="#000" transform="translate(260.70,382.80) rotate(-40)" >1 year before</text>
<text font-size="9.0" text-anchor="end" fill="#000" transform="translate(285.80,382.80) rotate(-40)" >Pre-vaccine</text>
<text font-size="9.0" text-anchor="end" fill="#000" transform="translate(310.60,382.80) rotate(-40)" >After 4 times</text>
<text font-size="9.0" text-anchor="end" fill="#000" transform="translate(334.60,382.80) rotate(-40)" >After 8 times</text>
<text font-size="9.0" text-anchor="end" fill="#000" transform="translate(360.90,382.80) rotate(-40)" >1 year after</text>
<text font-size="8.8" text-anchor="middle" fill="#222" transform="translate(213.50,315.40) rotate(-90)" >Tumor volume (cm<tspan font-size="5.8" dy="-3.2">3</tspan><tspan dy="3.2">)</tspan></text>
<polyline points="257.20,358.20 282.00,289.00" fill="none" stroke="#111" stroke-width="1.4" stroke-linejoin="round" stroke-linecap="round" />
<polyline points="282.00,289.00 306.90,286.10 332.30,286.70" fill="none" stroke="#5b6675" stroke-width="1.4" stroke-linejoin="round" stroke-linecap="round" />
<polyline points="332.30,286.70 356.80,282.00" fill="none" stroke="#111" stroke-width="1.4" stroke-linejoin="round" stroke-linecap="round" />
<circle cx="257.2" cy="358.2" r="2.6" fill="#0a0a0a"/>
<circle cx="282" cy="289" r="2.6" fill="#0a0a0a"/>
<circle cx="306.9" cy="286.1" r="2.6" fill="#5b6675"/>
<circle cx="332.3" cy="286.7" r="2.6" fill="#0a0a0a"/>
<circle cx="356.8" cy="282" r="2.6" fill="#0a0a0a"/>
<text font-size="8.9" text-anchor="start" fill="#000" x="328.60" y="269.30" >+9% (SD)</text>
<line x1="275.90" y1="426.60" x2="293.40" y2="426.60" stroke="#111" stroke-width="1.1" />
<circle cx="284.65" cy="426.60" r="3.1" fill="#000"/>
<text font-size="7" text-anchor="start" fill="#000" x="297.20" y="428.90" >Left falx meningioma</text>
<text font-size="10.7" text-anchor="middle" fill="#000" x="562.00" y="182.80" >CT perfusion</text>
<line x1="436.00" y1="189.40" x2="685.00" y2="189.40" stroke="#111" stroke-width="1.5" />
<text font-size="10.5" text-anchor="middle" fill="#000" x="476.60" y="207.40" xml:space="preserve">Pre-Vac</text>
<text font-size="10.5" text-anchor="middle" fill="#000" x="560.00" y="207.40" xml:space="preserve">3 M <tspan fill="#f61820">after</tspan> Vac</text>
<text font-size="10.5" text-anchor="middle" fill="#000" x="646.80" y="207.40" xml:space="preserve">6 M <tspan fill="#f61820">after</tspan> Vac</text>
<text font-size="12" text-anchor="middle" fill="#000" transform="translate(433.00,246.50) rotate(-90)" >Case 1</text>
<text font-size="12" text-anchor="middle" fill="#000" transform="translate(433.00,330.00) rotate(-90)" >Case 4</text>
<g transform="translate(437.40,211.30)">
<rect x="0.00" y="0.00" width="74.00" height="73.20" fill="#000" stroke="none" stroke-width="1" />
<path d="M36.63,9.00 C47.73,9.00 52.61,16.89 55.50,28.71 C59.94,36.60 59.94,45.79 56.61,51.58 C52.17,59.46 45.51,61.56 36.63,61.56 C27.75,61.56 21.09,59.46 16.65,51.58 C13.32,45.79 13.32,36.60 17.76,28.71 C20.65,16.89 25.53,9.00 36.63,9.00 Z" fill="url(#gv)" filter="url(#jet0)"/>
<ellipse cx="55.13" cy="43.41" rx="3.11" ry="2.93" fill="#f01010"/>
<ellipse cx="26.42" cy="36.97" rx="2.22" ry="1.46" fill="#000"/>
<rect x="1.60" y="18.67" width="2.50" height="35.50" fill="url(#cbar)" stroke="none" stroke-width="1" />
<rect x="4.40" y="18.37" width="2.60" height="0.70" fill="#5a5a5a" stroke="none" stroke-width="1" />
<rect x="4.40" y="54.77" width="2.60" height="0.70" fill="#5a5a5a" stroke="none" stroke-width="1" />
<g stroke="#5c5c5c" stroke-width="0.5" fill="none"><rect x="61.40" y="61.80" width="8.2" height="9.4"/><rect x="63.30" y="60.00" width="8.2" height="9.4"/><rect x="61.80" y="66.20" width="9.4" height="2.8" fill="#186c6c" stroke="#278686" opacity="0.75"/><line x1="62.40" y1="64.20" x2="70.40" y2="64.20"/></g>
</g>
<g transform="translate(523.40,211.30)">
<rect x="0.00" y="0.00" width="74.10" height="73.20" fill="#000" stroke="none" stroke-width="1" />
<path d="M37.05,13.54 C47.79,13.54 52.52,21.01 55.32,32.21 C59.61,39.67 59.61,48.39 56.39,53.86 C52.09,61.33 45.65,63.32 37.05,63.32 C28.45,63.32 22.01,61.33 17.71,53.86 C14.49,48.39 14.49,39.67 18.78,32.21 C21.58,21.01 26.31,13.54 37.05,13.54 Z" fill="url(#gv)" filter="url(#jet1)"/>
<ellipse cx="55.57" cy="44.07" rx="2.22" ry="2.93" fill="#f01010"/>
<ellipse cx="26.97" cy="39.31" rx="2.59" ry="1.76" fill="#000"/>
<ellipse cx="34.09" cy="34.40" rx="1.48" ry="1.32" fill="#000"/>
<rect x="1.60" y="18.67" width="2.50" height="35.50" fill="url(#cbar)" stroke="none" stroke-width="1" />
<rect x="4.40" y="18.37" width="2.60" height="0.70" fill="#5a5a5a" stroke="none" stroke-width="1" />
<rect x="4.40" y="54.77" width="2.60" height="0.70" fill="#5a5a5a" stroke="none" stroke-width="1" />
<g stroke="#5c5c5c" stroke-width="0.5" fill="none"><rect x="61.50" y="61.80" width="8.2" height="9.4"/><rect x="63.40" y="60.00" width="8.2" height="9.4"/><rect x="61.90" y="66.20" width="9.4" height="2.8" fill="#186c6c" stroke="#278686" opacity="0.75"/><line x1="62.50" y1="64.20" x2="70.50" y2="64.20"/></g>
</g>
<g transform="translate(610.20,211.30)">
<rect x="0.00" y="0.00" width="74.30" height="73.20" fill="#000" stroke="none" stroke-width="1" />
<path d="M37.37,7.17 C48.48,7.17 53.37,14.88 56.26,26.44 C60.70,34.15 60.70,43.14 57.37,48.80 C52.92,56.50 46.26,58.56 37.37,58.56 C28.49,58.56 21.82,56.50 17.38,48.80 C14.05,43.14 14.05,34.15 18.49,26.44 C21.38,14.88 26.27,7.17 37.37,7.17 Z" fill="url(#gv)" filter="url(#jet2)"/>
<ellipse cx="55.72" cy="40.48" rx="2.97" ry="2.56" fill="#f01010"/>
<ellipse cx="27.49" cy="35.87" rx="2.23" ry="1.61" fill="#000"/>
<rect x="1.60" y="18.67" width="2.50" height="35.50" fill="url(#cbar)" stroke="none" stroke-width="1" />
<rect x="4.40" y="18.37" width="2.60" height="0.70" fill="#5a5a5a" stroke="none" stroke-width="1" />
<rect x="4.40" y="54.77" width="2.60" height="0.70" fill="#5a5a5a" stroke="none" stroke-width="1" />
<g stroke="#5c5c5c" stroke-width="0.5" fill="none"><rect x="61.70" y="61.80" width="8.2" height="9.4"/><rect x="63.60" y="60.00" width="8.2" height="9.4"/><rect x="62.10" y="66.20" width="9.4" height="2.8" fill="#186c6c" stroke="#278686" opacity="0.75"/><line x1="62.70" y1="64.20" x2="70.70" y2="64.20"/></g>
</g>
<g transform="translate(437.40,293.40)">
<rect x="0.00" y="0.00" width="74.00" height="73.60" fill="#000" stroke="none" stroke-width="1" />
<ellipse cx="38.92" cy="37.32" rx="14.06" ry="13.98" fill="url(#gh)" filter="url(#jet3)"/>
<rect x="1.60" y="18.77" width="2.50" height="35.70" fill="url(#cbar)" stroke="none" stroke-width="1" />
<rect x="4.40" y="18.47" width="2.60" height="0.70" fill="#5a5a5a" stroke="none" stroke-width="1" />
<rect x="4.40" y="55.06" width="2.60" height="0.70" fill="#5a5a5a" stroke="none" stroke-width="1" />
<g stroke="#5c5c5c" stroke-width="0.5" fill="none"><rect x="61.40" y="62.20" width="8.2" height="9.4"/><rect x="63.30" y="60.40" width="8.2" height="9.4"/><rect x="61.80" y="66.60" width="9.4" height="2.8" fill="#186c6c" stroke="#278686" opacity="0.75"/><line x1="62.40" y1="64.60" x2="70.40" y2="64.60"/></g>
</g>
<g transform="translate(523.40,293.40)">
<rect x="0.00" y="0.00" width="74.10" height="73.60" fill="#000" stroke="none" stroke-width="1" />
<ellipse cx="36.16" cy="37.54" rx="14.52" ry="16.34" fill="url(#gh)" filter="url(#jet4)"/>
<rect x="1.60" y="18.77" width="2.50" height="35.70" fill="url(#cbar)" stroke="none" stroke-width="1" />
<rect x="4.40" y="18.47" width="2.60" height="0.70" fill="#5a5a5a" stroke="none" stroke-width="1" />
<rect x="4.40" y="55.06" width="2.60" height="0.70" fill="#5a5a5a" stroke="none" stroke-width="1" />
<g stroke="#5c5c5c" stroke-width="0.5" fill="none"><rect x="61.50" y="62.20" width="8.2" height="9.4"/><rect x="63.40" y="60.40" width="8.2" height="9.4"/><rect x="61.90" y="66.60" width="9.4" height="2.8" fill="#186c6c" stroke="#278686" opacity="0.75"/><line x1="62.50" y1="64.60" x2="70.50" y2="64.60"/></g>
</g>
<g transform="translate(610.20,293.40)">
<rect x="0.00" y="0.00" width="74.30" height="73.60" fill="#000" stroke="none" stroke-width="1" />
<ellipse cx="37.52" cy="39.89" rx="14.34" ry="15.09" fill="url(#gh2)" filter="url(#jet5)"/>
<rect x="1.60" y="18.77" width="2.50" height="35.70" fill="url(#cbar)" stroke="none" stroke-width="1" />
<rect x="4.40" y="18.47" width="2.60" height="0.70" fill="#5a5a5a" stroke="none" stroke-width="1" />
<rect x="4.40" y="55.06" width="2.60" height="0.70" fill="#5a5a5a" stroke="none" stroke-width="1" />
<g stroke="#5c5c5c" stroke-width="0.5" fill="none"><rect x="61.70" y="62.20" width="8.2" height="9.4"/><rect x="63.60" y="60.40" width="8.2" height="9.4"/><rect x="62.10" y="66.60" width="9.4" height="2.8" fill="#186c6c" stroke="#278686" opacity="0.75"/><line x1="62.70" y1="64.60" x2="70.70" y2="64.60"/></g>
</g>
<path d="M512.00,247.10 h4.1 v-4.9 l4.9,8.9 l-4.9,8.9 v-4.9 h-4.1 z" fill="#fb0d0d"/>
<path d="M600.05,247.10 h4.1 v-4.9 l4.9,8.9 l-4.9,8.9 v-4.9 h-4.1 z" fill="#fb0d0d"/>
<path d="M513.00,326.50 h4.1 v-4.9 l4.9,8.9 l-4.9,8.9 v-4.9 h-4.1 z" fill="#fb0d0d"/>
<path d="M600.90,326.50 h4.1 v-4.9 l4.9,8.9 l-4.9,8.9 v-4.9 h-4.1 z" fill="#fb0d0d"/>
<rect x="52.00" y="452.45" width="161.50" height="202.00" fill="none" stroke="#1a1a1a" stroke-width="1.4" />
<line x1="40.30" y1="654.30" x2="52.00" y2="654.30" stroke="#111" stroke-width="1.2" />
<text font-size="8.9" text-anchor="end" fill="#000" x="37.40" y="657.50" >0</text>
<line x1="40.30" y1="633.48" x2="52.00" y2="633.48" stroke="#111" stroke-width="1.2" />
<text font-size="8.9" text-anchor="end" fill="#000" x="37.40" y="636.68" >1.0</text>
<line x1="40.30" y1="612.66" x2="52.00" y2="612.66" stroke="#111" stroke-width="1.2" />
<text font-size="8.9" text-anchor="end" fill="#000" x="37.40" y="615.86" >2.0</text>
<line x1="40.30" y1="591.84" x2="52.00" y2="591.84" stroke="#111" stroke-width="1.2" />
<text font-size="8.9" text-anchor="end" fill="#000" x="37.40" y="595.04" >3.0</text>
<line x1="40.30" y1="571.02" x2="52.00" y2="571.02" stroke="#111" stroke-width="1.2" />
<text font-size="8.9" text-anchor="end" fill="#000" x="37.40" y="574.22" >4.0</text>
<line x1="40.30" y1="550.20" x2="52.00" y2="550.20" stroke="#111" stroke-width="1.2" />
<text font-size="8.9" text-anchor="end" fill="#000" x="37.40" y="553.40" >5.0</text>
<line x1="40.30" y1="529.38" x2="52.00" y2="529.38" stroke="#111" stroke-width="1.2" />
<text font-size="8.9" text-anchor="end" fill="#000" x="37.40" y="532.58" >6.0</text>
<line x1="40.30" y1="508.56" x2="52.00" y2="508.56" stroke="#111" stroke-width="1.2" />
<text font-size="8.9" text-anchor="end" fill="#000" x="37.40" y="511.76" >7.0</text>
<line x1="40.30" y1="487.74" x2="52.00" y2="487.74" stroke="#111" stroke-width="1.2" />
<text font-size="8.9" text-anchor="end" fill="#000" x="37.40" y="490.94" >8.0</text>
<line x1="99.40" y1="452.45" x2="99.40" y2="654.45" stroke="#444" stroke-width="0.8" stroke-dasharray="2.1 1.5"/>
<line x1="66.80" y1="654.45" x2="66.80" y2="660.65" stroke="#111" stroke-width="1.2" />
<line x1="99.40" y1="654.45" x2="99.40" y2="660.65" stroke="#111" stroke-width="1.2" />
<line x1="133.30" y1="654.45" x2="133.30" y2="660.65" stroke="#111" stroke-width="1.2" />
<line x1="164.50" y1="654.45" x2="164.50" y2="660.65" stroke="#111" stroke-width="1.2" />
<line x1="197.10" y1="654.45" x2="197.10" y2="660.65" stroke="#111" stroke-width="1.2" />
<text font-size="9.0" text-anchor="end" fill="#000" transform="translate(70.80,667.15) rotate(-40)" >1 year before</text>
<text font-size="9.0" text-anchor="end" fill="#000" transform="translate(103.40,667.15) rotate(-40)" >Pre-vaccine</text>
<text font-size="9.0" text-anchor="end" fill="#000" transform="translate(137.30,667.15) rotate(-40)" >After 4 cycles</text>
<text font-size="9.0" text-anchor="end" fill="#000" transform="translate(168.50,667.15) rotate(-40)" >After 8 cycles</text>
<text font-size="9.0" text-anchor="end" fill="#000" transform="translate(201.10,667.15) rotate(-40)" >1 year after</text>
<text font-size="8.7" text-anchor="middle" fill="#222" transform="translate(16.70,553.50) rotate(-90)" >Tumor volume (cm<tspan font-size="5.8" dy="-3.2">3</tspan><tspan dy="3.2">)</tspan></text>
<polyline points="68.20,579.40 99.40,510.50 130.30,508.20 161.90,525.30" fill="none" stroke="#628ad8" stroke-width="1.2" stroke-linejoin="round" stroke-linecap="round" />
<polyline points="67.20,632.10 99.40,527.60 130.30,525.60 161.90,516.20 192.70,489.00" fill="none" stroke="#fbcb3e" stroke-width="1.2" stroke-linejoin="round" stroke-linecap="round" />
<polyline points="66.80,646.90 99.40,614.70 130.30,613.30 161.90,614.00 192.70,611.60" fill="none" stroke="#b2b2b2" stroke-width="1.2" stroke-linejoin="round" stroke-linecap="round" />
<polyline points="68.20,628.10 99.40,618.70 130.30,619.70 161.90,622.00 192.70,622.00" fill="none" stroke="#f0965e" stroke-width="1.2" stroke-linejoin="round" stroke-linecap="round" />
<line x1="21.70" y1="724.40" x2="35.00" y2="724.40" stroke="#628ad8" stroke-width="1.5" />
<text font-size="7" text-anchor="start" fill="#000" x="39.60" y="726.90" >Case 1</text>
<line x1="71.50" y1="724.40" x2="84.80" y2="724.40" stroke="#f0965e" stroke-width="1.5" />
<text font-size="7" text-anchor="start" fill="#000" x="89.00" y="726.90" >Case 4–1</text>
<line x1="130.30" y1="724.40" x2="143.70" y2="724.40" stroke="#b2b2b2" stroke-width="1.5" />
<text font-size="7" text-anchor="start" fill="#000" x="148.20" y="726.90" >Case 4–2</text>
<line x1="188.50" y1="724.40" x2="201.80" y2="724.40" stroke="#fbcb3e" stroke-width="1.5" />
<text font-size="7" text-anchor="start" fill="#000" x="205.70" y="726.90" >Case 5</text>
<rect x="353.20" y="516.50" width="65.00" height="135.70" fill="#eef2fb" stroke="none" stroke-width="1" />
<line x1="312.00" y1="558.20" x2="459.40" y2="558.20" stroke="#777" stroke-width="0.8" />
<rect x="312.00" y="516.50" width="147.40" height="135.70" fill="none" stroke="#111" stroke-width="1.1" />
<line x1="301.80" y1="521.40" x2="312.00" y2="521.40" stroke="#111" stroke-width="1" />
<text font-size="9.2" text-anchor="end" fill="#000" x="298.70" y="524.70" >40</text>
<line x1="301.80" y1="539.80" x2="312.00" y2="539.80" stroke="#111" stroke-width="1" />
<text font-size="9.2" text-anchor="end" fill="#000" x="298.70" y="543.10" >20</text>
<line x1="301.80" y1="558.20" x2="312.00" y2="558.20" stroke="#111" stroke-width="1" />
<text font-size="9.2" text-anchor="end" fill="#000" x="298.70" y="561.50" >0</text>
<line x1="301.80" y1="576.60" x2="312.00" y2="576.60" stroke="#111" stroke-width="1" />
<text font-size="9.2" text-anchor="end" fill="#000" x="298.70" y="579.90" >−20</text>
<line x1="301.80" y1="595.00" x2="312.00" y2="595.00" stroke="#111" stroke-width="1" />
<text font-size="9.2" text-anchor="end" fill="#000" x="298.70" y="598.30" >−40</text>
<line x1="301.80" y1="613.40" x2="312.00" y2="613.40" stroke="#111" stroke-width="1" />
<text font-size="9.2" text-anchor="end" fill="#000" x="298.70" y="616.70" >−60</text>
<line x1="301.80" y1="631.80" x2="312.00" y2="631.80" stroke="#111" stroke-width="1" />
<text font-size="9.2" text-anchor="end" fill="#000" x="298.70" y="635.10" >−80</text>
<line x1="301.80" y1="650.20" x2="312.00" y2="650.20" stroke="#111" stroke-width="1" />
<text font-size="9.2" text-anchor="end" fill="#000" x="298.70" y="653.50" >−100</text>
<line x1="320.70" y1="652.20" x2="320.70" y2="657.80" stroke="#111" stroke-width="1" />
<line x1="353.20" y1="652.20" x2="353.20" y2="657.80" stroke="#111" stroke-width="1" />
<line x1="385.40" y1="652.20" x2="385.40" y2="657.80" stroke="#111" stroke-width="1" />
<line x1="418.20" y1="652.20" x2="418.20" y2="657.80" stroke="#111" stroke-width="1" />
<line x1="450.40" y1="652.20" x2="450.40" y2="657.80" stroke="#111" stroke-width="1" />
<text font-size="9.0" text-anchor="end" fill="#000" transform="translate(324.20,664.80) rotate(-40)" >1 year before</text>
<text font-size="9.0" text-anchor="end" fill="#000" transform="translate(356.70,664.80) rotate(-40)" >Pre-vaccine</text>
<text font-size="9.0" text-anchor="end" fill="#000" transform="translate(388.90,664.80) rotate(-40)" >After 4 times</text>
<text font-size="9.0" text-anchor="end" fill="#000" transform="translate(421.70,664.80) rotate(-40)" >After 8 times</text>
<text font-size="9.0" text-anchor="end" fill="#000" transform="translate(453.90,664.80) rotate(-40)" >1 year after</text>
<text font-size="8.8" text-anchor="middle" fill="#222" transform="translate(275.80,585.80) rotate(-90)" >Baseline volume (%)</text>
<polyline points="320.70,635.50 353.20,558.20 385.40,555.80 418.20,555.20 450.40,550.00" fill="none" stroke="#c4c4c4" stroke-width="0.8" stroke-linejoin="round" stroke-linecap="round" />
<polyline points="320.70,583.40 353.20,558.20 385.40,560.00 418.20,567.10 450.40,567.10" fill="none" stroke="#3cbcf2" stroke-width="0.8" stroke-linejoin="round" stroke-linecap="round" />
<polyline points="320.70,602.70 353.20,558.20 385.40,557.80 418.20,567.10" fill="none" stroke="#3cbcf2" stroke-width="0.8" stroke-linejoin="round" stroke-linecap="round" />
<polyline points="320.70,632.40 353.20,558.20 385.40,557.00 418.20,549.70 450.40,530.30" fill="none" stroke="#f06a6a" stroke-width="0.9" stroke-linejoin="round" stroke-linecap="round" />
<line x1="315.20" y1="705.90" x2="338.20" y2="705.90" stroke="#8f8f8f" stroke-width="1.4" />
<text font-size="6.3" text-anchor="start" fill="#000" x="342.00" y="708.50" >Stable disease</text>
<line x1="315.20" y1="716.65" x2="338.20" y2="716.65" stroke="#29b6f6" stroke-width="1.4" />
<text font-size="6.3" text-anchor="start" fill="#000" x="342.00" y="719.25" >Minor response</text>
<line x1="315.20" y1="727.40" x2="338.20" y2="727.40" stroke="#fcc531" stroke-width="1.4" />
<text font-size="6.3" text-anchor="start" fill="#000" x="342.00" y="730.00" >Partial response</text>
<line x1="315.20" y1="738.15" x2="338.20" y2="738.15" stroke="#f23a3a" stroke-width="1.4" />
<text font-size="6.3" text-anchor="start" fill="#000" x="342.00" y="740.75" >Progressive disease</text>
<rect x="54.75" y="800.60" width="150.90" height="176.25" fill="none" stroke="#1a1a1a" stroke-width="1.4" />
<line x1="43.95" y1="813.70" x2="54.75" y2="813.70" stroke="#111" stroke-width="1.1" />
<text font-size="8.9" text-anchor="end" fill="#000" x="39.85" y="816.90" >500</text>
<line x1="43.95" y1="840.90" x2="54.75" y2="840.90" stroke="#111" stroke-width="1.1" />
<text font-size="8.9" text-anchor="end" fill="#000" x="39.85" y="844.10" >400</text>
<line x1="43.95" y1="868.20" x2="54.75" y2="868.20" stroke="#111" stroke-width="1.1" />
<text font-size="8.9" text-anchor="end" fill="#000" x="39.85" y="871.40" >300</text>
<line x1="43.95" y1="895.70" x2="54.75" y2="895.70" stroke="#111" stroke-width="1.1" />
<text font-size="8.9" text-anchor="end" fill="#000" x="39.85" y="898.90" >200</text>
<line x1="43.95" y1="923.20" x2="54.75" y2="923.20" stroke="#111" stroke-width="1.1" />
<text font-size="8.9" text-anchor="end" fill="#000" x="39.85" y="926.40" >100</text>
<line x1="43.95" y1="948.60" x2="54.75" y2="948.60" stroke="#111" stroke-width="1.1" />
<text font-size="8.9" text-anchor="end" fill="#000" x="39.85" y="951.80" >0</text>
<line x1="43.95" y1="976.85" x2="54.75" y2="976.85" stroke="#111" stroke-width="1.1" />
<text font-size="8.9" text-anchor="end" fill="#000" x="39.85" y="980.05" >−100</text>
<line x1="54.75" y1="948.60" x2="205.65" y2="948.60" stroke="#111" stroke-width="1.1" />
<line x1="92.20" y1="976.85" x2="92.20" y2="987.15" stroke="#111" stroke-width="1" />
<line x1="166.70" y1="976.85" x2="166.70" y2="987.15" stroke="#111" stroke-width="1" />
<text font-size="8.5" text-anchor="middle" fill="#000" x="92.00" y="998.00" >1 year before</text>
<text font-size="8.5" text-anchor="middle" fill="#000" x="166.00" y="998.00" >1 year after</text>
<text font-size="8.8" text-anchor="middle" fill="#222" transform="translate(13.00,887.80) rotate(-90)" >% Change in tumor volume</text>
<polyline points="91.50,837.70 162.80,940.70" fill="none" stroke="#929292" stroke-width="0.9" stroke-linejoin="round" stroke-linecap="round" />
<polyline points="91.50,912.30 161.50,948.20" fill="none" stroke="#f0965e" stroke-width="1" stroke-linejoin="round" stroke-linecap="round" />
<polyline points="91.50,923.20 162.80,951.40" fill="none" stroke="#628ad8" stroke-width="1" stroke-linejoin="round" stroke-linecap="round" />
<line x1="60.00" y1="1016.90" x2="70.60" y2="1016.90" stroke="#628ad8" stroke-width="1.5" />
<text font-size="7" text-anchor="start" fill="#000" x="73.90" y="1019.40" >Case 1</text>
<line x1="106.90" y1="1016.90" x2="117.90" y2="1016.90" stroke="#f0965e" stroke-width="1.5" />
<text font-size="7" text-anchor="start" fill="#000" x="121.40" y="1019.40" >Case 4</text>
<line x1="154.80" y1="1016.90" x2="165.00" y2="1016.90" stroke="#b2b2b2" stroke-width="1.5" />
<text font-size="7" text-anchor="start" fill="#000" x="168.60" y="1019.40" >Case 4</text>
<rect x="259.10" y="869.70" width="119.20" height="106.60" fill="none" stroke="#444" stroke-width="1.2" />
<line x1="250.10" y1="874.70" x2="259.10" y2="874.70" stroke="#3a3a3a" stroke-width="1.0" />
<text font-size="9.2" text-anchor="end" fill="#000" x="247.10" y="878.00" >400</text>
<line x1="250.10" y1="895.30" x2="259.10" y2="895.30" stroke="#3a3a3a" stroke-width="1.0" />
<text font-size="9.2" text-anchor="end" fill="#000" x="247.10" y="898.60" >300</text>
<line x1="250.10" y1="915.50" x2="259.10" y2="915.50" stroke="#3a3a3a" stroke-width="1.0" />
<text font-size="9.2" text-anchor="end" fill="#000" x="247.10" y="918.80" >200</text>
<line x1="250.10" y1="935.90" x2="259.10" y2="935.90" stroke="#3a3a3a" stroke-width="1.0" />
<text font-size="9.2" text-anchor="end" fill="#000" x="247.10" y="939.20" >100</text>
<line x1="250.10" y1="956.80" x2="259.10" y2="956.80" stroke="#3a3a3a" stroke-width="1.0" />
<text font-size="9.2" text-anchor="end" fill="#000" x="247.10" y="960.10" >0</text>
<line x1="250.10" y1="976.20" x2="259.10" y2="976.20" stroke="#3a3a3a" stroke-width="1.0" />
<text font-size="9.2" text-anchor="end" fill="#000" x="247.10" y="979.50" >−100</text>
<line x1="259.10" y1="956.90" x2="378.30" y2="956.90" stroke="#333" stroke-width="1.1" />
<line x1="287.80" y1="976.30" x2="287.80" y2="984.80" stroke="#3a3a3a" stroke-width="1.0" />
<line x1="347.20" y1="976.30" x2="347.20" y2="984.80" stroke="#3a3a3a" stroke-width="1.0" />
<text font-size="8.5" text-anchor="middle" fill="#000" x="288.20" y="995.10" >1 year before</text>
<text font-size="8.5" text-anchor="middle" fill="#000" x="347.40" y="995.10" >1 year after</text>
<text font-size="8.8" text-anchor="middle" fill="#222" transform="translate(222.20,925.30) rotate(-90)" >% Change in tumor volume</text>
<line x1="287.50" y1="874.30" x2="287.50" y2="946.40" stroke="#777" stroke-width="0.8" />
<line x1="347.20" y1="948.70" x2="347.20" y2="956.90" stroke="#888" stroke-width="0.7" />
<line x1="287.50" y1="910.70" x2="347.20" y2="952.80" stroke="#a8a8a8" stroke-width="0.8" />
<circle cx="287.5" cy="910.7" r="1.9" fill="#d01010"/>
<circle cx="347.2" cy="952.8" r="1.9" fill="#d01010"/>
<text font-size="8.5" text-anchor="start" fill="#000" x="327.90" y="883.30" ><tspan font-style="italic">P</tspan> = 0.064</text>
<rect x="449.25" y="774.30" width="158.40" height="197.70" fill="none" stroke="#1a1a1a" stroke-width="1.5" />
<line x1="436.85" y1="972.00" x2="449.25" y2="972.00" stroke="#111" stroke-width="1.2" />
<text font-size="9.0" text-anchor="end" fill="#000" x="432.95" y="975.20" >0</text>
<line x1="436.85" y1="942.30" x2="449.25" y2="942.30" stroke="#111" stroke-width="1.2" />
<text font-size="9.0" text-anchor="end" fill="#000" x="432.95" y="945.50" >1</text>
<line x1="436.85" y1="912.60" x2="449.25" y2="912.60" stroke="#111" stroke-width="1.2" />
<text font-size="9.0" text-anchor="end" fill="#000" x="432.95" y="915.80" >2</text>
<line x1="436.85" y1="882.90" x2="449.25" y2="882.90" stroke="#111" stroke-width="1.2" />
<text font-size="9.0" text-anchor="end" fill="#000" x="432.95" y="886.10" >3</text>
<line x1="436.85" y1="853.20" x2="449.25" y2="853.20" stroke="#111" stroke-width="1.2" />
<text font-size="9.0" text-anchor="end" fill="#000" x="432.95" y="856.40" >4</text>
<line x1="436.85" y1="823.50" x2="449.25" y2="823.50" stroke="#111" stroke-width="1.2" />
<text font-size="9.0" text-anchor="end" fill="#000" x="432.95" y="826.70" >5</text>
<line x1="436.85" y1="793.80" x2="449.25" y2="793.80" stroke="#111" stroke-width="1.2" />
<text font-size="9.0" text-anchor="end" fill="#000" x="432.95" y="797.00" >6</text>
<line x1="473.90" y1="972.00" x2="473.90" y2="977.50" stroke="#111" stroke-width="1.2" />
<line x1="526.80" y1="972.00" x2="526.80" y2="977.50" stroke="#111" stroke-width="1.2" />
<line x1="579.40" y1="972.00" x2="579.40" y2="977.50" stroke="#111" stroke-width="1.2" />
<text font-size="9.0" text-anchor="end" fill="#000" transform="translate(477.90,984.00) rotate(-40)" >Pre-vaccine</text>
<text font-size="9.0" text-anchor="end" fill="#000" transform="translate(530.80,984.00) rotate(-40)" >After 4 times</text>
<text font-size="9.0" text-anchor="end" fill="#000" transform="translate(583.40,984.00) rotate(-40)" >After 8 times</text>
<text font-size="8.6" text-anchor="middle" fill="#222" transform="translate(419.60,872.60) rotate(-90)" >TBV</text>
<polyline points="473.90,828.30 525.10,855.00 575.90,849.00" fill="none" stroke="#fbcb3e" stroke-width="1.2" stroke-linejoin="round" stroke-linecap="round" />
<polyline points="473.90,862.30 525.10,865.50 575.90,896.30" fill="none" stroke="#628ad8" stroke-width="1.2" stroke-linejoin="round" stroke-linecap="round" />
<polyline points="473.90,907.20 525.10,903.70 575.90,897.70" fill="none" stroke="#b2b2b2" stroke-width="1.2" stroke-linejoin="round" stroke-linecap="round" />
<polyline points="473.90,918.00 525.10,925.00 575.90,920.80" fill="none" stroke="#f0965e" stroke-width="1.2" stroke-linejoin="round" stroke-linecap="round" />
<text font-size="10.5" text-anchor="middle" fill="#4a4a4a" x="468.50" y="867.40" >∗</text>
<text font-size="9" text-anchor="middle" fill="#444" x="428.00" y="1042.60" >∗</text>
<line x1="429.80" y1="1039.60" x2="442.00" y2="1039.60" stroke="#628ad8" stroke-width="1.5" />
<text font-size="7" text-anchor="start" fill="#000" x="446.60" y="1042.10" >Case 1</text>
<line x1="479.90" y1="1039.60" x2="492.90" y2="1039.60" stroke="#f0965e" stroke-width="1.5" />
<text font-size="7" text-anchor="start" fill="#000" x="497.00" y="1042.10" >Case 4–1</text>
<line x1="538.40" y1="1039.60" x2="551.40" y2="1039.60" stroke="#b2b2b2" stroke-width="1.5" />
<text font-size="7" text-anchor="start" fill="#000" x="555.60" y="1042.10" >Case 4–2</text>
<line x1="596.90" y1="1039.60" x2="609.50" y2="1039.60" stroke="#fbcb3e" stroke-width="1.5" />
<text font-size="7" text-anchor="start" fill="#000" x="613.70" y="1042.10" >Case 5</text>
</svg></body></html>
